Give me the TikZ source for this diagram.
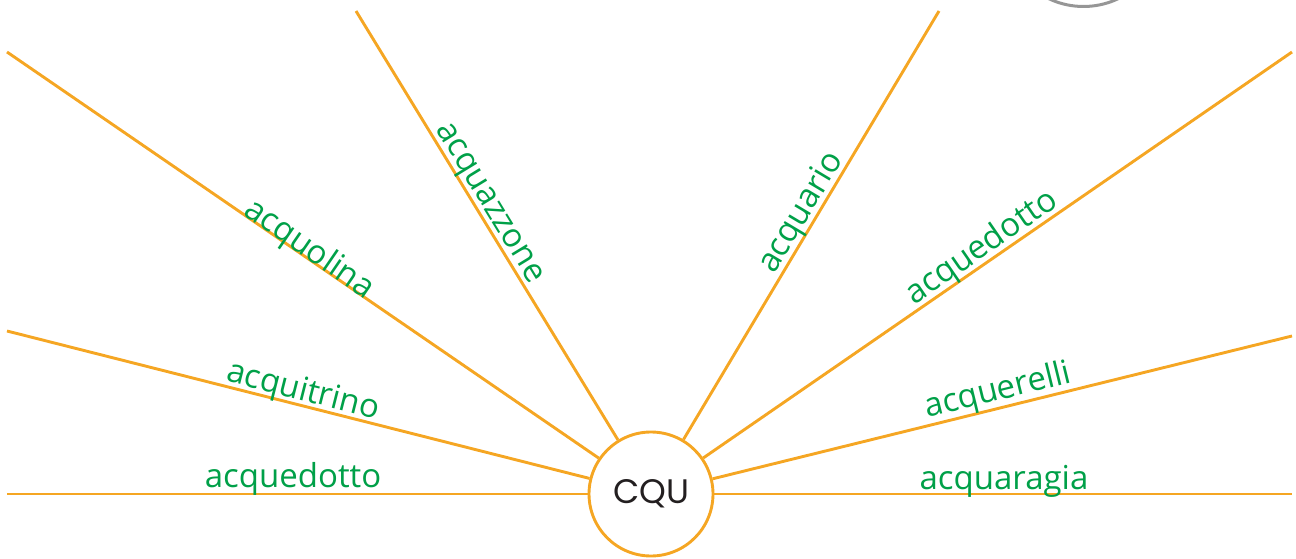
\documentclass[tikz,border=0pt]{standalone}
\usepackage{fontspec}
\setmainfont{Open Sans}
\newfontfamily\cqufont{Poppins}
\definecolor{rayorange}{RGB}{245,166,35}
\definecolor{wordgreen}{RGB}{0,160,72}
\definecolor{ringgray}{RGB}{150,150,150}
\definecolor{textdark}{RGB}{35,31,32}
\begin{document}
\begin{tikzpicture}[x=1pt,y=1pt,
  ray/.style={draw=rayorange, line width=2.9pt},
  hub/.style={circle, draw=rayorange, line width=2.9pt, fill=white, minimum size=124pt, inner sep=0pt, font=\cqufont\fontsize{34}{34}\selectfont, text=textdark},
  word/.style={anchor=base, text=wordgreen, font=\fontsize{33}{33}\selectfont, inner sep=0pt}]
\clip (0,0) rectangle (1296,558);
\draw[ringgray, line width=3pt] (1083.5,632) circle (80.5);
\node[hub] (O) at (651,64) {CQU};
\coordinate (L0) at (7,64);
\coordinate (L1) at (7,227);
\coordinate (L2) at (7,506);
\coordinate (L3) at (356,547);
\coordinate (R3) at (939,547);
\coordinate (R2) at (1292,506);
\coordinate (R1) at (1292,222);
\coordinate (R0) at (1292,64);
\draw[ray] (O) -- (L0);
\draw[ray] (O) -- (L1);
\draw[ray] (O) -- (L2);
\draw[ray] (O) -- (L3);
\draw[ray] (O) -- (R3);
\draw[ray] (O) -- (R2);
\draw[ray] (O) -- (R1);
\draw[ray] (O) -- (R0);
\node[word] (w1) at (293,71) {acquedotto};
\node[word] (w2) at (1004,69) {acquaragia};
\node[word, rotate=-14.2] (w3) at (301,158) {acquitrino};
\node[word, rotate=-34.5] (w4) at (304,301) {acquolina};
\node[word, rotate=-58.6] (w5) at (483,351) {acquazzone};
\node[word, rotate=59.2] (w6) at (809,341) {acquario};
\node[word, rotate=34.6] (w7) at (987,303) {acquedotto};
\node[word, rotate=13.8] (w8) at (1000,158) {acquerelli};
\end{tikzpicture}
\end{document}
